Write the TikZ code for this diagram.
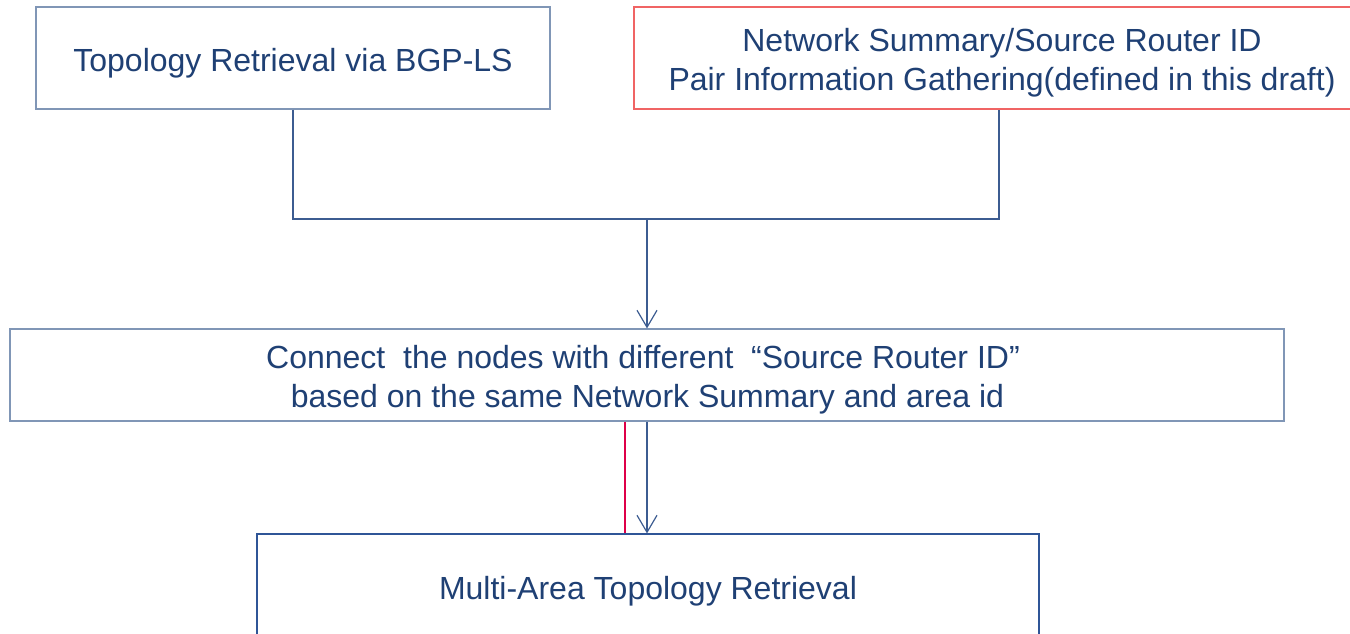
\documentclass[tikz,border=0pt]{standalone}
\usepackage{fontspec}
\setmainfont{Liberation Sans}
\usetikzlibrary{arrows.meta}
\definecolor{txtblue}{RGB}{31,64,116}
\definecolor{boxgray}{RGB}{128,150,182}
\definecolor{boxblue}{RGB}{47,85,151}
\definecolor{linblue}{RGB}{60,92,145}
\definecolor{boxred}{RGB}{240,100,100}
\definecolor{linred}{RGB}{222,0,72}
\begin{document}
\begin{tikzpicture}[x=1pt,y=1pt,
  box/.style={draw, line width=1.1pt, inner sep=0pt},
  txt/.style={inner sep=0pt, align=center, text=txtblue,
    font=\fontsize{32}{39}\selectfont},
  conn/.style={draw=linblue, line width=1.2pt},
  tip/.style={-{Straight Barb[length=17pt,width=20pt,line width=1.2pt]}}]
\useasboundingbox (0,0) rectangle (1350,-634);
\node[box, draw=boxgray, minimum width=514pt, minimum height=102pt] (b1) at (293,-58) {};
\node[box, draw=boxred, minimum width=730pt, minimum height=102pt] (b2) at (999,-58) {};
\node[box, draw=boxgray, minimum width=1274pt, minimum height=92pt] (b3) at (647,-375) {};
\node[box, draw=boxblue, minimum width=782pt, minimum height=108pt] (b4) at (648,-588) {};
\node[txt] (t1) at ([yshift=-5pt]b1.center) {Topology Retrieval via BGP-LS};
\node[txt] (t2) at ([xshift=3pt,yshift=-5pt]b2.center) {Network Summary/Source Router ID\\Pair Information Gathering(defined in this draft)};
\node[txt] (t3) at ([xshift=-4pt,yshift=-5pt]b3.center) {Connect~ the nodes with different~ “Source Router ID”\\ ~based on the same Network Summary and area id};
\node[txt] (t4) at ([yshift=-3pt]b4.center) {Multi-Area Topology Retrieval};
\coordinate (j) at (647,-219);
\coordinate (r) at (625,0);
\draw[conn] (b1.south) |- (j) -| (b2.south);
\draw[conn, tip] (j) -- (b3.north);
\draw[conn, tip] (b3.south -| j) -- (b4.north -| j);
\draw[draw=linred, line width=2pt] (b3.south -| r) -- (b4.north -| r);
\end{tikzpicture}
\end{document}
